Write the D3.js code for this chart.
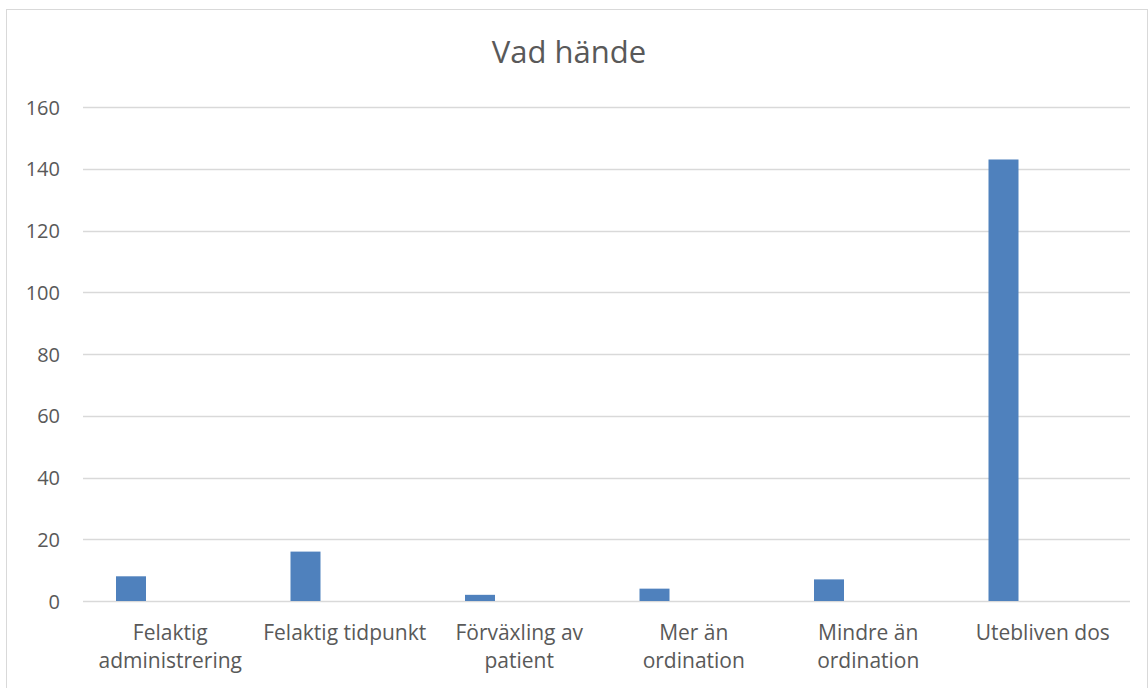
<!DOCTYPE html>
<html>
<head>
<meta charset="utf-8">
<script src="https://cdn.jsdelivr.net/npm/d3@7"></script>
<style>
  html, body { margin: 0; padding: 0; background: #fff; }
  svg { display: block; }
  text { font-family: "Open Sans", "Noto Sans", sans-serif; fill: #595959; }
</style>
</head>
<body>
<script>
// ---- data ----
const title = "Vad hände";
const categories = [
  "Felaktig administrering",
  "Felaktig tidpunkt",
  "Förväxling av patient",
  "Mer än ordination",
  "Mindre än ordination",
  "Utebliven dos"
];
const values = [8, 16, 2, 4, 7, 143];
const yTicks = [0, 20, 40, 60, 80, 100, 120, 140, 160];

// ---- layout ----
const W = 1148, H = 688;
const plot = { left: 83, right: 1130, top: 107, bottom: 601 };

const svg = d3.select("body").append("svg").attr("width", W).attr("height", H);

// chart border
svg.append("rect")
  .attr("x", 6.5).attr("y", 9.5)
  .attr("width", 1141).attr("height", 700)
  .attr("fill", "#fff").attr("stroke", "#d9d9d9").attr("stroke-width", 1);

const x = d3.scaleBand().domain(categories).range([plot.left, plot.right]).padding(0);
const y = d3.scaleLinear().domain([0, 160]).range([plot.bottom, plot.top]);

// gridlines
svg.append("g").selectAll("line").data(yTicks).join("line")
  .attr("x1", plot.left).attr("x2", plot.right)
  .attr("y1", d => Math.round(y(d)) + 0.5).attr("y2", d => Math.round(y(d)) + 0.5)
  .attr("stroke", "#d9d9d9").attr("stroke-width", 1.3);

// y axis labels
const yAxis = d3.axisLeft(y).tickValues(yTicks).tickSize(0).tickPadding(0);
const gy = svg.append("g").attr("transform", `translate(60,0)`).call(yAxis);
gy.select(".domain").remove();
gy.selectAll("text").attr("font-size", 20).style("fill", "#595959")
  .style("font-family", '"Open Sans", sans-serif').attr("dy", "0.35em");

// bars (offset within band as in source)
const barOffset = 33, barWidth = 30;
svg.append("g").selectAll("rect").data(values).join("rect")
  .attr("x", (d, i) => x(categories[i]) + barOffset)
  .attr("width", barWidth)
  .attr("y", d => y(d))
  .attr("height", d => y(0) - y(d))
  .attr("fill", "#4f81bd");

// x axis labels with wrapping
const xAxis = d3.axisBottom(x).tickSize(0).tickPadding(0);
const gx = svg.append("g").attr("transform", `translate(0,${plot.bottom})`).call(xAxis);
gx.select(".domain").remove();
gx.selectAll("text").attr("font-size", 21).style("fill", "#595959")
  .style("font-family", '"Open Sans", sans-serif')
  .each(function(d) {
    const t = d3.select(this);
    const words = d.split(" ");
    t.text(null).attr("y", 0).attr("dy", null);
    const maxW = 170;
    let lines = [], cur = [];
    const probe = t.append("tspan");
    words.forEach(w => {
      const test = cur.concat(w).join(" ");
      probe.text(test);
      if (probe.node().getComputedTextLength() > maxW && cur.length) {
        lines.push(cur.join(" "));
        cur = [w];
      } else cur.push(w);
    });
    lines.push(cur.join(" "));
    probe.remove();
    lines.forEach((l, i) => {
      t.append("tspan").attr("x", 0).attr("y", 39 + i * 28).text(l);
    });
  });

// title
svg.append("text")
  .attr("x", 569).attr("y", 63)
  .attr("text-anchor", "middle")
  .attr("font-size", 31)
  .text(title);
</script>
</body>
</html>
